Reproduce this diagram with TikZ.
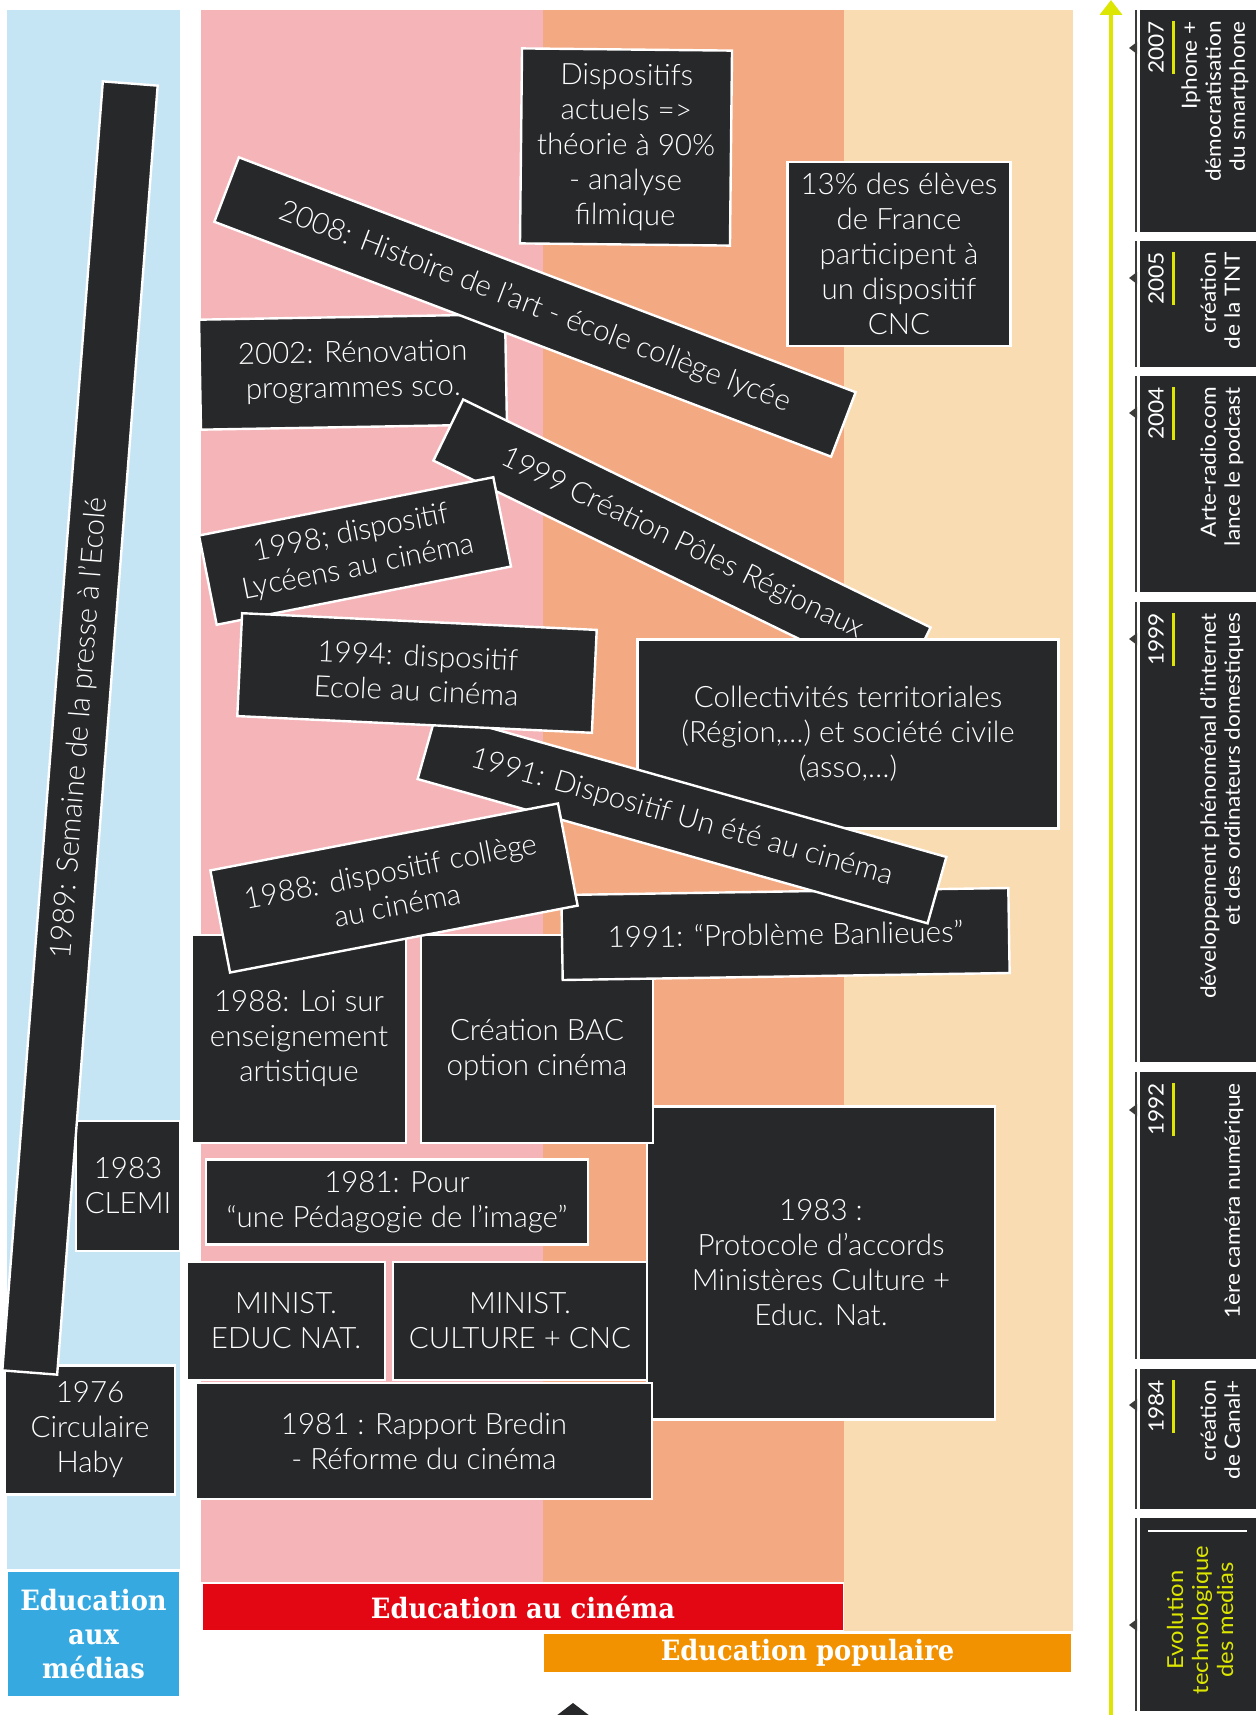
\documentclass[tikz,border=0pt]{standalone}
\usepackage{fontspec}
\usetikzlibrary{arrows.meta}
\IfFontExistsTF{Lato Light}{%
  \setmainfont{Lato Light}}{%
  \setmainfont{Lato}}
\newfontfamily\techfont{Lato}[FakeStretch=1.08]
\newfontfamily\slabfont{DejaVu Serif}[FakeStretch=0.92]
\definecolor{bgblue}{HTML}{C5E5F5}
\definecolor{bgpink}{HTML}{F5B4B8}
\definecolor{bgorange}{HTML}{F3A982}
\definecolor{bgpeach}{HTML}{FADCB2}
\definecolor{lblblue}{HTML}{36A9E1}
\definecolor{lblred}{HTML}{E30613}
\definecolor{lblorange}{HTML}{F39200}
\definecolor{boxdark}{HTML}{27282A}
\definecolor{ylw}{HTML}{DCE600}
\definecolor{tickgray}{HTML}{3C3C3B}
\newcommand\mainsz{\fontsize{29.5}{35}\selectfont}
\newcommand\techitem[7]{%
  \node[techbox, minimum height={#3-#2}] (#1) at (1198,{(#2+#3)/2}) {};
  \draw[tickline] (1136,#2) -- (1136,#3);
  \fill[tickgray] (1129,#4) -- (1137,#4-6) -- (1137,#4+6) -- cycle;
  \node[yeartxt, anchor=east] (#1y) at (1156,#2+11) {#5};
  \draw[ylwline] ([xshift=10pt]#1y.south east) -- ([xshift=10pt]#1y.south west);
  \node[desctxt, anchor=south east] (#1d) at (#7,#2+11) {#6};
}
\begin{document}
\begin{tikzpicture}[x=1pt,y=-1pt,
  box/.style={draw=white, line width=2.4pt, fill=boxdark, text=white, align=center, inner sep=0pt, font=\mainsz},
  lbl/.style={text=white, inner sep=0pt, align=center, font=\slabfont\bfseries\fontsize{28}{34}\selectfont},
  techbox/.style={fill=boxdark, draw=none, minimum width=116pt, inner sep=0pt},
  tickline/.style={draw=tickgray, line width=1.8pt},
  yeartxt/.style={rotate=90, text=white, inner sep=0pt, font=\techfont\fontsize{21}{24}\selectfont},
  desctxt/.style={rotate=90, text=white, inner sep=0pt, align=right, text depth=0pt, font=\techfont\fontsize{21}{24}\selectfont},
  ylwline/.style={draw=ylw, line width=3pt}]
\useasboundingbox (0,0) rectangle (1256,1715);
% background bands
\fill[bgblue] (7,10) rectangle (180,1569);
\fill[bgpink] (201,10) rectangle (543,1582);
\fill[bgorange] (543,10) rectangle (844,1582);
\fill[bgpeach] (844,10) rectangle (1073,1631);
% labels
\node[lbl, fill=lblblue, minimum width=171pt, minimum height=124pt] (lmedias) at (93.5,1634) {Education\\aux\\médias};
\node[lbl, fill=lblred, minimum width=640pt, minimum height=46pt] (lcinema) at (523,1607) {Education au cinéma};
\node[lbl, fill=lblorange, minimum width=527pt, minimum height=38pt] (lpop) at (807.5,1653) {Education populaire};
\fill[boxdark] (573,1703) -- (590,1716) -- (556,1716) -- cycle;
% boxes, back to front
\node[box, minimum width=210pt, minimum height=195pt, rotate=-0.6] (disp) at (626,147) {Dispositifs\\actuels =>\\théorie à 90\%\\- analyse\\filmique};
\node[box, minimum width=223pt, minimum height=184pt] (pct) at (899,254) {13\% des élèves\\de France\\participent à\\un dispositif\\CNC};
\node[box, minimum width=306pt, minimum height=110pt, rotate=1] (b2002) at (353,372) {2002: Rénovation\\programmes sco.};
\node[box, minimum width=660pt, minimum height=69pt, rotate=-20.85] (b2008) at (535,307) {2008: Histoire de l’art - école collège lycée};
\node[box, minimum width=520pt, minimum height=68pt, rotate=-26] (b1999) at (682,544) {1999 Création Pôles Régionaux};
\node[box, minimum width=421pt, minimum height=189pt] (coll) at (848,734) {Collectivités territoriales\\(Région,…) et société civile\\(asso,…)};
\node[box, minimum width=348pt, minimum height=313pt] (proto) at (821,1263) {1983 :\\Protocole d’accords\\Ministères Culture +\\Educ. Nat.};
\node[box, minimum width=232pt, minimum height=208pt] (bac) at (537,1039) {\rule{0pt}{43pt}Création BAC\\option cinéma};
\node[box, minimum width=214pt, minimum height=208pt] (loi) at (299,1039) {1988: Loi sur\\enseignement\\artistique};
\node[box, minimum width=447pt, minimum height=85pt, rotate=0.9] (banl) at (785.5,934) {1991: “Problème Banlieues”};
\node[box, minimum width=530pt, minimum height=69pt, rotate=-15.8] (b1991) at (682,818) {1991: Dispositif Un été au cinéma};
\node[box, minimum width=300pt, minimum height=91pt, rotate=11.2] (b1998) at (355,551) {1998; dispositif\\Lycéens au cinéma};
\node[box, minimum width=355pt, minimum height=103pt, rotate=-2.7] (b1994) at (417,673) {1994: dispositif\\Ecole au cinéma};
\node[box, minimum width=354pt, minimum height=104pt, rotate=10.9] (b1988) at (394,888) {1988: dispositif collège\\au cinéma};
\node[box, minimum width=382pt, minimum height=85pt] (pour) at (397,1202) {1981: Pour\\“une Pédagogie de l’image”};
\node[box, minimum width=198pt, minimum height=118pt] (educ) at (286,1321) {MINIST.\\EDUC NAT.};
\node[box, minimum width=254pt, minimum height=118pt] (cult) at (520,1321) {MINIST.\\CULTURE + CNC};
\node[box, minimum width=456pt, minimum height=116pt] (bredin) at (424,1441) {1981 : Rapport Bredin\\- Réforme du cinéma};
\node[box, minimum width=104pt, minimum height=130pt] (clemi) at (128,1186) {1983\\CLEMI};
\node[box, minimum width=170pt, minimum height=129pt] (haby) at (90,1430) {1976\\Circulaire\\Haby};
\node[box, minimum width=1293pt, minimum height=55pt, rotate=85.54] (b1989) at (80,728) {1989: Semaine de la presse à l’Ecolé};
% timeline arrow
\coordinate (arrbot) at (1111,1716);
\coordinate (arrtop) at (1111,0);
\draw[ylw, line width=4.6pt, -{Triangle[width=22pt,length=15pt]}] (arrbot) -- (arrtop);
% technology column
\techitem{t2007}{10}{232}{48}{2007}{Iphone +\\démocratisation\\du smartphone}{1245}
\techitem{t2005}{241}{367}{278}{2005}{création\\de la TNT}{1240}
\techitem{t2004}{376}{592}{413}{2004}{Arte-radio.com\\lance le podcast}{1240}
\techitem{t1999}{602}{1062}{639}{1999}{développement phénoménal d’internet\\et des ordinateurs domestiques}{1240}
\techitem{t1992}{1072}{1359}{1110}{1992}{1ère caméra numérique}{1240}
\techitem{t1984}{1369}{1509}{1405}{1984}{création\\de Canal+}{1240}
\node[techbox, minimum height=193pt] (tevo) at (1198,1614.5) {};
\draw[tickline] (1136,1518) -- (1136,1711);
\fill[tickgray] (1129,1625) -- (1137,1619) -- (1137,1631) -- cycle;
\draw[white, line width=2pt] (1148,1531) -- (1247,1531);
\node[rotate=90, text=ylw, inner sep=0pt, align=center, font=\techfont\fontsize{22}{25}\selectfont] (tevot) at (1200,1620) {Evolution\\technologique\\des medias};
\end{tikzpicture}
\end{document}
